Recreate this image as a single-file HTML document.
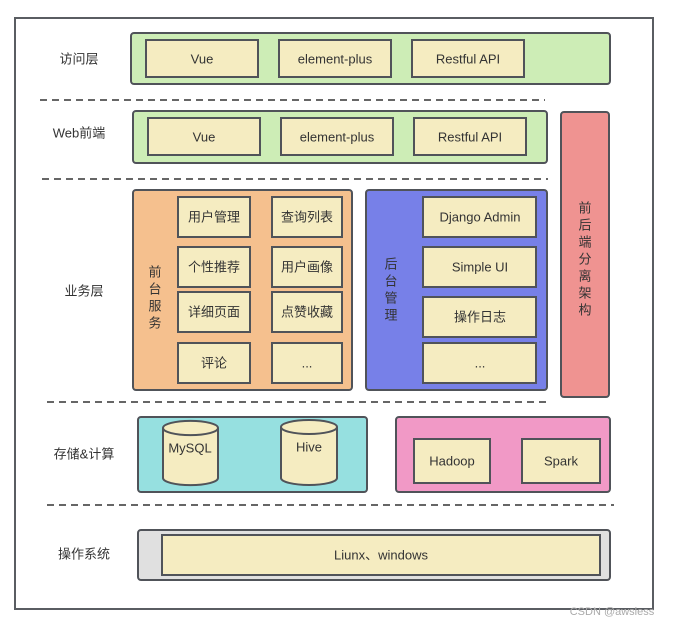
<!DOCTYPE html>
<html><head><meta charset="utf-8"><style>
html,body{margin:0;padding:0;background:#fff;}
svg{display:block;}
text{font-family:"Liberation Sans","Noto Sans CJK SC",sans-serif;font-size:13px;fill:#333;text-anchor:middle;dominant-baseline:central;}
.b{stroke:#505359;stroke-width:2;}
.y{fill:#f5ecc1;stroke:#505359;stroke-width:2;}
.d{stroke:#666;stroke-width:2;stroke-dasharray:7,5;fill:none;}
</style></head><body>
<svg width="673" height="625" viewBox="0 0 673 625" xmlns="http://www.w3.org/2000/svg">
<rect x="15" y="18" width="638" height="591" fill="#fff" stroke="#5a5d62" stroke-width="2"/>
<rect class="b" x="131" y="33" width="479" height="51" rx="3" fill="#cdedb6"/>
<rect class="y" x="146" y="40" width="112" height="37"/><text x="202" y="59">Vue</text>
<rect class="y" x="279" y="40" width="112" height="37"/><text x="335" y="59">element-plus</text>
<rect class="y" x="412" y="40" width="112" height="37"/><text x="468" y="59">Restful API</text>
<text x="79" y="59">访问层</text>
<line class="d" x1="40" y1="100" x2="545" y2="100"/>
<rect class="b" x="133" y="111" width="414" height="52" rx="3" fill="#cdedb6"/>
<rect class="y" x="148" y="118" width="112" height="37"/><text x="204" y="137">Vue</text>
<rect class="y" x="281" y="118" width="112" height="37"/><text x="337" y="137">element-plus</text>
<rect class="y" x="414" y="118" width="112" height="37"/><text x="470" y="137">Restful API</text>
<text x="79" y="133">Web前端</text>
<line class="d" x1="42" y1="179" x2="548" y2="179"/>
<rect class="b" x="561" y="112" width="48" height="285" rx="3" fill="#ef9391"/>
<text x="585" y="208">前</text><text x="585" y="225">后</text><text x="585" y="242">端</text><text x="585" y="259">分</text><text x="585" y="276">离</text><text x="585" y="293">架</text><text x="585" y="310">构</text>
<rect class="b" x="133" y="190" width="219" height="200" rx="3" fill="#f5c08e"/>
<text x="155" y="272">前</text><text x="155" y="289">台</text><text x="155" y="306">服</text><text x="155" y="323">务</text>
<rect class="y" x="178" y="197" width="72" height="40"/><text x="214" y="217">用户管理</text>
<rect class="y" x="272" y="197" width="70" height="40"/><text x="307" y="217">查询列表</text>
<rect class="y" x="178" y="247" width="72" height="40"/><text x="214" y="267">个性推荐</text>
<rect class="y" x="272" y="247" width="70" height="40"/><text x="307" y="267">用户画像</text>
<rect class="y" x="178" y="292" width="72" height="40"/><text x="214" y="312">详细页面</text>
<rect class="y" x="272" y="292" width="70" height="40"/><text x="307" y="312">点赞收藏</text>
<rect class="y" x="178" y="343" width="72" height="40"/><text x="214" y="363">评论</text>
<rect class="y" x="272" y="343" width="70" height="40"/><text x="307" y="363">...</text>
<rect class="b" x="366" y="190" width="181" height="200" rx="3" fill="#7780e8"/>
<text x="391" y="264">后</text><text x="391" y="281">台</text><text x="391" y="298">管</text><text x="391" y="315">理</text>
<rect class="y" x="423" y="197" width="113" height="40"/><text x="480" y="217">Django Admin</text>
<rect class="y" x="423" y="247" width="113" height="40"/><text x="480" y="267">Simple UI</text>
<rect class="y" x="423" y="297" width="113" height="40"/><text x="480" y="317">操作日志</text>
<rect class="y" x="423" y="343" width="113" height="40"/><text x="480" y="363">...</text>
<text x="84" y="291">业务层</text>
<line class="d" x1="47" y1="402" x2="550" y2="402"/>
<rect class="b" x="138" y="417" width="229" height="75" rx="3" fill="#96e0e0"/>
<path class="b" fill="#f5ecc1" d="M163,428 v50 a27,7 0 0 0 55,0 v-50 a27,7 0 0 0 -55,0 a27,7 0 0 0 55,0"/>
<text x="190" y="448">MySQL</text>
<path class="b" fill="#f5ecc1" d="M281,427 v51 a28,7 0 0 0 56,0 v-51 a28,7 0 0 0 -56,0 a28,7 0 0 0 56,0"/>
<text x="309" y="447">Hive</text>
<rect class="b" x="396" y="417" width="214" height="75" rx="3" fill="#f199c6"/>
<rect class="y" x="414" y="439" width="76" height="44"/><text x="452" y="461">Hadoop</text>
<rect class="y" x="522" y="439" width="78" height="44"/><text x="561" y="461">Spark</text>
<text x="84" y="454">存储&amp;计算</text>
<line class="d" x1="47" y1="505" x2="614" y2="505"/>
<rect class="b" x="138" y="530" width="472" height="50" rx="3" fill="#e0e0e0"/>
<rect class="y" x="162" y="535" width="438" height="40"/><text x="381" y="555">Liunx、windows</text>
<text x="84" y="554">操作系统</text>
<text x="612" y="612" style="font-size:11px;fill:#aaa">CSDN @awsless</text>
</svg>
</body></html>
